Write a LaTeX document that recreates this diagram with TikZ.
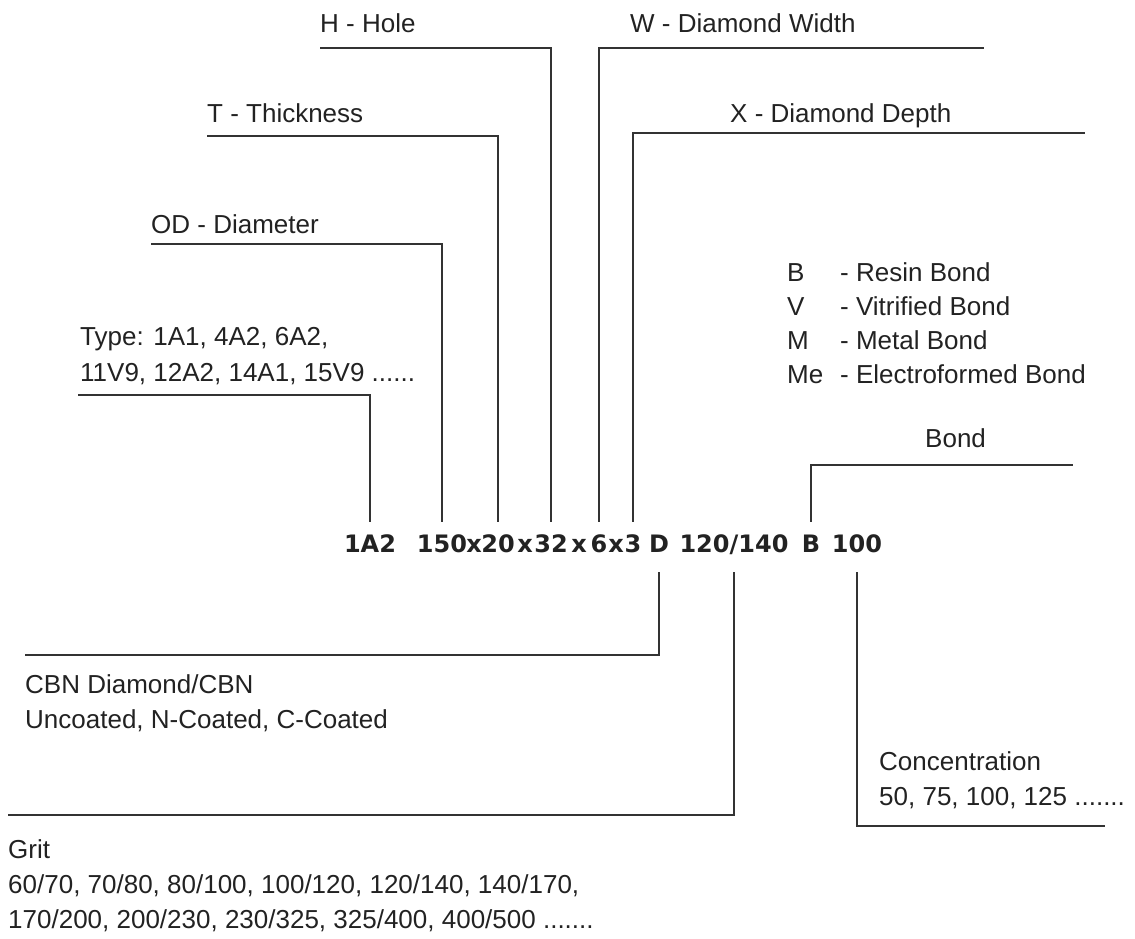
\documentclass[tikz,border=0pt]{standalone}
\usepackage{fontspec}
\setmainfont{Liberation Sans}
\newfontfamily\codefont{DejaVu Sans}
\usetikzlibrary{positioning}
\definecolor{ink}{HTML}{222222}
\definecolor{wire}{HTML}{333333}

\begin{document}
\begin{tikzpicture}[x=1pt,y=-1pt,
    lbl/.style={font=\fontsize{26}{35}\selectfont, text=ink, inner sep=0, anchor=base west},
    tok/.style={font=\codefont\bfseries\fontsize{24}{24}\selectfont, text=ink, inner sep=0,
      anchor=base, text height=17.5pt, text depth=7pt, outer ysep=13pt},
    lead/.style={draw=wire, line width=1.7pt}]
  \useasboundingbox (0,0) rectangle (1135,938);

  % the code
  \node[tok] (c1A2) at (370,552) {1A2};
  \node[tok] (c150) at (442,552) {150};
  \node[tok] (cx1) at (474,552) {x};
  \node[tok] (c20) at (498,552) {20};
  \node[tok] (cx2) at (525,552) {x};
  \node[tok] (c32) at (551,552) {32};
  \node[tok] (cx3) at (579,552) {x};
  \node[tok] (c6) at (599,552) {6};
  \node[tok] (cx4) at (616,552) {x};
  \node[tok] (c3) at (633,552) {3};
  \node[tok] (cD) at (659,552) {D};
  \node[tok] (cGrit) at (734,552) {120/140};
  \node[tok] (cB) at (811,552) {B};
  \node[tok] (c100) at (857,552) {100};

  % labels above
  \node[lbl] (hLbl) at (320,32) {H - Hole};
  \node[lbl] (tLbl) at (207,122) {T - Thickness};
  \node[lbl] (odLbl) at (151,233) {OD - Diameter};
  \node[lbl] (typeA) at (80,345) {Type: 1A1, 4A2, 6A2,};
  \node[lbl] (typeB) at (80,381) {11V9, 12A2, 14A1, 15V9 ......};
  \node[lbl] (wLbl) at (630,32) {W - Diamond Width};
  \node[lbl] (xLbl) at (730,122) {X - Diamond Depth};
  \foreach \k/\t [count=\i] in {B/Resin Bond, V/Vitrified Bond, M/Metal Bond, Me/Electroformed Bond} {
    \node[lbl] (key\i) at (787,{247+34*\i}) {\k};
    \node[lbl] (bond\i) at (840,{247+34*\i}) {- \t};
  }
  \node[lbl] (bondLbl) at (925,447) {Bond};

  % labels below
  \node[lbl] (cbnA) at (25,693) {CBN Diamond/CBN};
  \node[lbl] (cbnB) at (25,728) {Uncoated, N-Coated, C-Coated};
  \node[lbl] (concA) at (879,770) {Concentration};
  \node[lbl] (concB) at (879,805) {50, 75, 100, 125 .......};
  \node[lbl] (gritA) at (8,858) {Grit};
  \node[lbl] (gritB) at (8,893) {60/70, 70/80, 80/100, 100/120, 120/140, 140/170,};
  \node[lbl] (gritC) at (8,928) {170/200, 200/230, 230/325, 325/400, 400/500 .......};

  % leaders
  \coordinate (wEnd) at (984,48);
  \coordinate (xEnd) at (1085,133);
  \coordinate (bondEnd) at (1073,465);
  \coordinate (cbnEnd) at (25,655);
  \coordinate (gritEnd) at (8,815);
  \coordinate (concEnd) at (1105,826);
  \draw[lead] (typeB.base west) ++(-2,14) -| (c1A2.north);
  \draw[lead] (odLbl.base west) ++(0,11) -| (c150.north);
  \draw[lead] (tLbl.base west) ++(0,14) -| (c20.north);
  \draw[lead] (hLbl.base west) ++(0,16) -| (c32.north);
  \draw[lead] (c6.north) |- (wEnd);
  \draw[lead] (c3.north) |- (xEnd);
  \draw[lead] (cB.north) |- (bondEnd);
  \draw[lead] (cD.south) |- (cbnEnd);
  \draw[lead] (cGrit.south) |- (gritEnd);
  \draw[lead] (c100.south) |- (concEnd);
\end{tikzpicture}
\end{document}
